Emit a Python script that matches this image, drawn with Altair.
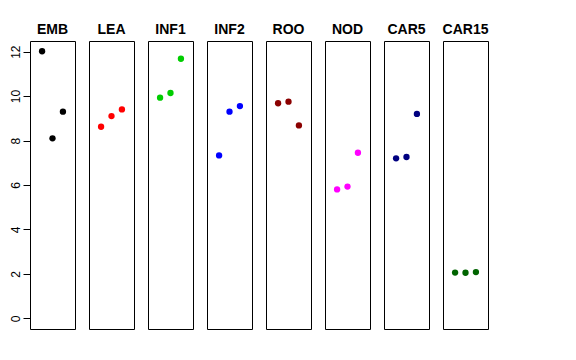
import altair as alt
import pandas as pd

tissues = ["EMB", "LEA", "INF1", "INF2", "ROO", "NOD", "CAR5", "CAR15"]
colors = ["#000000", "#FF0000", "#00CD00", "#0000FF", "#8B0000", "#FF00FF", "#000080", "#006400"]
rep_index = [1, 2, 3]
values = {
    "EMB":   [12.02, 8.10, 9.30],
    "LEA":   [8.62, 9.10, 9.40],
    "INF1":  [9.93, 10.14, 11.68],
    "INF2":  [7.33, 9.30, 9.55],
    "ROO":   [9.68, 9.75, 8.68],
    "NOD":   [5.80, 5.93, 7.45],
    "CAR5":  [7.20, 7.26, 9.20],
    "CAR15": [2.06, 2.05, 2.08],
}
y_ticks = [0, 2, 4, 6, 8, 10, 12]

rows = []
for t in tissues:
    for i, v in zip(rep_index, values[t]):
        rows.append({"tissue": t, "rep": i, "value": v})
df = pd.DataFrame(rows)

FONT = "Liberation Sans"

chart = alt.Chart(df).mark_circle(size=40, opacity=1).encode(
    x=alt.X("rep:Q", scale=alt.Scale(domain=[-0.16, 4.16], nice=False, zero=False), axis=None),
    y=alt.Y("value:Q", scale=alt.Scale(domain=[-0.48, 12.48], nice=False, zero=False),
            axis=alt.Axis(values=y_ticks, title=None, grid=False, domain=False,
                          tickColor="black", tickSize=7, tickWidth=1,
                          labelAngle=270, labelAlign="center", labelBaseline="alphabetic",
                          labelPadding=4, labelFont=FONT, labelFontSize=12, labelColor="black")),
    color=alt.Color("tissue:N", scale=alt.Scale(domain=tissues, range=colors), legend=None),
).properties(width=45, height=288).facet(
    column=alt.Column("tissue:N", sort=tissues,
                      header=alt.Header(title=None, labelFont=FONT, labelFontWeight="bold",
                                        labelFontSize=14, labelColor="black", labelPadding=4)),
    spacing=14,
    bounds="flush",
).properties(
    padding={"left": 0, "top": 15, "right": 5, "bottom": 5}, background="white"
).configure_view(stroke="black", strokeWidth=1)

chart.save("out.html", embed_options={"renderer": "svg", "actions": False})
